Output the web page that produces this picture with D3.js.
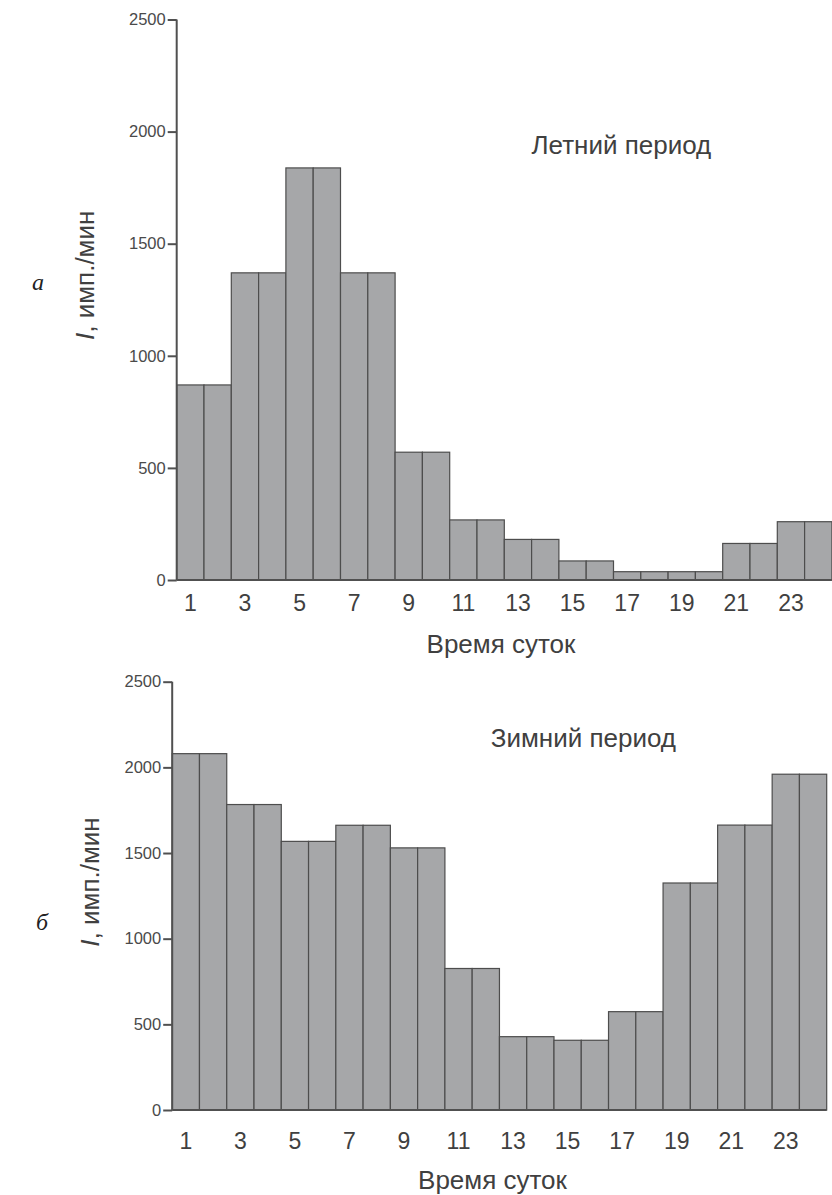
<!DOCTYPE html>
<html>
<head>
<meta charset="utf-8">
<script src="https://cdn.jsdelivr.net/npm/d3@7"></script>
<style>
  html, body { margin: 0; padding: 0; background: #fff; }
  svg { display: block; }
</style>
</head>
<body>
<svg id="chart" width="832" height="1195"></svg>
<script>
// ---- data ----
const hours = d3.range(1, 25);
const tickHours = [1, 3, 5, 7, 9, 11, 13, 15, 17, 19, 21, 23];
const yTicks = [0, 500, 1000, 1500, 2000, 2500];
const summerValues = [870, 870, 1370, 1370, 1838, 1838, 1370, 1370, 570, 570, 268, 268,
                      181, 181, 85, 85, 37, 37, 37, 37, 163, 163, 260, 260];
const winterValues = [2080, 2080, 1783, 1783, 1568, 1568, 1662, 1662, 1530, 1530, 826, 826,
                      428, 428, 407, 407, 574, 574, 1325, 1325, 1663, 1663, 1960, 1960];
const panelLetters = ["а", "б"];
const seasonTitles = ["Летний период", "Зимний период"];
const xTitle = "Время суток";
const yTitleItalic = "I";
const yTitleRest = ", имп./мин";

// ---- layout ----
const panels = [
  { values: summerValues, x0: 176.7, x1: 831.9, y0: 580, y1: 19.5,
    xLabelBase: 611, xTitleX: 501, xTitleY: 653,
    titleX: 531.5, titleY: 154, yLabX: 93.5, yLabY: 340,
    letterX: 38, letterY: 290 },
  { values: winterValues, x0: 172.2, x1: 826.7, y0: 1110, y1: 681.7,
    xLabelBase: 1149, xTitleX: 492.5, xTitleY: 1189,
    titleX: 490.7, titleY: 747.3, yLabX: 98.6, yLabY: 946.7,
    letterX: 42, letterY: 930 }
];

const svg = d3.select("#chart");
const textColor = "#404040";
const sans = "'Liberation Sans', Arial, sans-serif";

panels.forEach((p, i) => {
  const x = d3.scaleBand().domain(hours).range([p.x0, p.x1]).padding(0);
  const y = d3.scaleLinear().domain([0, 2500]).range([p.y0, p.y1]);
  const g = svg.append("g");

  // bars
  g.selectAll("rect.bar").data(p.values).join("rect")
    .attr("class", "bar")
    .attr("x", (d, j) => x(hours[j]))
    .attr("y", d => y(d))
    .attr("width", x.bandwidth())
    .attr("height", d => y(0) - y(d))
    .attr("fill", "#a6a7a9")
    .attr("stroke", "#4d4d4d")
    .attr("stroke-width", 1.2);

  // y axis
  const yAxis = d3.axisLeft(y).tickValues(yTicks).tickSize(9).tickPadding(2).tickFormat(d3.format("d"));
  const ya = g.append("g").attr("transform", `translate(${p.x0},0)`).call(yAxis);
  ya.select(".domain").attr("stroke", "#505050").attr("stroke-width", 2)
    .attr("d", `M0,${p.y1}V${p.y0}`);
  ya.selectAll(".tick line").attr("stroke", "#505050").attr("stroke-width", 2);
  ya.selectAll(".tick text").attr("fill", "#4a4a4a")
    .style("font-family", sans).style("font-size", "16.5px");

  // x axis baseline
  const xAxis = d3.axisBottom(x).tickValues(tickHours).tickSize(0).tickPadding(0);
  const xa = g.append("g").attr("transform", `translate(0,${p.y0})`).call(xAxis);
  xa.select(".domain").attr("stroke", "#505050").attr("stroke-width", 2)
    .attr("d", `M${p.x0},0H${p.x1}`);
  xa.selectAll(".tick text")
    .attr("y", p.xLabelBase - p.y0).attr("dy", null)
    .attr("fill", textColor)
    .style("font-family", sans).style("font-size", "23px");

  // x title
  g.append("text").attr("x", p.xTitleX).attr("y", p.xTitleY)
    .attr("text-anchor", "middle").attr("fill", textColor)
    .style("font-family", sans).style("font-size", "26px").text(xTitle);

  // season title
  g.append("text").attr("x", p.titleX).attr("y", p.titleY)
    .attr("fill", textColor)
    .style("font-family", sans).style("font-size", "26px").text(seasonTitles[i]);

  // y title
  const yt = g.append("text")
    .attr("transform", `translate(${p.yLabX},${p.yLabY}) rotate(-90)`)
    .attr("fill", textColor)
    .style("font-family", sans).style("font-size", "26px");
  yt.append("tspan").style("font-style", "italic").text(yTitleItalic);
  yt.append("tspan").text(yTitleRest);

  // panel letter
  g.append("text").attr("x", p.letterX).attr("y", p.letterY)
    .attr("text-anchor", "middle").attr("fill", "#222")
    .style("font-family", "'Liberation Serif', 'Times New Roman', serif")
    .style("font-style", "italic").style("font-size", "24px")
    .text(panelLetters[i]);
});
</script>
</body>
</html>
